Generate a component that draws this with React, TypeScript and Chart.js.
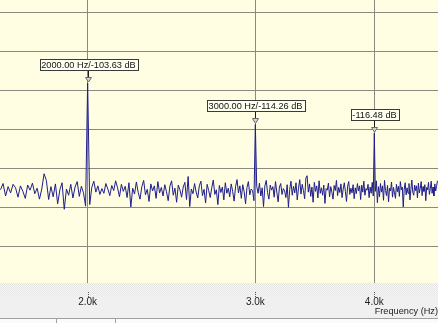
import React, { useEffect, useRef } from 'react';
import { Chart, registerables } from 'chart.js';

Chart.register(...registerables);

// FFT bin grid of the spectrum (Hz)
const binStartHz = 1620;
const binStepHz = 10;

// Spectrum level per bin (dB)
const levelsDb = [
  -131.0, -129.4, -132.6, -130.2, -131.8, -129.6, -130.5, -132.9, -130.0, -131.4, -133.2, -129.8, -131.1, -129.3, -132.0, -130.6, -133.4, -130.8, -126.9, -128.6,
  -133.5, -130.2, -132.8, -129.5, -134.6, -131.0, -129.2, -136.0, -130.8, -132.4, -129.6, -133.1, -130.3, -128.9, -132.7, -130.1, -131.8, -135.2, -103.63, -134.8,
  -130.4, -128.8, -131.6, -130.0, -132.2, -130.7, -131.9, -129.4, -130.8, -132.5, -129.9, -131.2, -128.7, -130.5, -132.8, -129.6, -131.4, -130.1, -133.0, -129.2,
  -135.4, -130.6, -132.1, -129.0, -131.7, -133.4, -130.2, -128.6, -132.3, -130.9, -134.0, -129.5, -131.3, -130.0, -133.2, -128.9, -131.8, -130.4, -132.6, -129.7,
  -131.5, -133.8, -130.1, -128.7, -132.4, -130.6, -134.2, -129.8, -131.0, -132.9, -130.3, -129.1, -133.5, -127.6, -135.3, -130.8, -132.0, -129.4, -131.6, -133.1,
  -130.0, -128.8, -132.5, -130.9, -134.4, -129.6, -131.2, -133.0, -130.5, -128.5, -132.2, -131.0, -134.8, -129.9, -131.7, -130.3, -133.6, -129.2, -131.9, -130.6,
  -132.8, -129.5, -131.4, -133.9, -130.2, -128.4, -131.8, -130.0, -133.2, -129.7, -131.5, -134.6, -130.4, -128.9, -132.3, -130.8, -131.2, -133.8, -114.26, -130.1,
  -131.9, -129.3, -132.6, -130.5, -135.3, -130.0, -128.6, -131.7, -133.4, -129.8, -131.1, -130.2, -132.9, -128.9, -131.6, -134.1, -130.3, -129.4, -132.2, -130.7,
  -131.3, -133.0, -129.7, -135.5, -130.9, -128.8, -132.4, -130.1, -131.8, -129.2, -133.6, -130.6, -128.4, -132.1, -129.6, -131.2, -133.3, -128.0, -127.4, -131.6,
  -129.5, -132.7, -130.3, -134.2, -129.1, -131.4, -130.0, -133.1, -128.7, -131.9, -130.5, -132.4, -129.8, -134.5, -130.7, -131.1, -129.3, -132.8, -130.2, -131.6,
  -133.4, -129.9, -131.2, -128.6, -132.5, -130.4, -131.7, -129.5, -133.0, -130.8, -129.2, -131.5, -134.0, -130.1, -128.9, -132.2, -130.6, -131.8, -129.7, -133.3,
  -130.5, -132.0, -129.4, -131.3, -130.0, -133.5, -129.8, -131.6, -128.8, -132.4, -130.7, -131.1, -129.6, -133.0, -130.3, -131.9, -129.1, -132.6, -116.48, -131.4,
  -128.7, -134.3, -130.2, -132.8, -129.4, -131.6, -130.0, -133.7, -128.6, -131.2, -132.5, -129.9, -134.1, -130.6, -131.3, -129.0, -132.9, -130.4, -131.8, -133.2,
  -129.6, -131.5, -130.1, -132.7, -128.9, -131.0, -130.3, -135.4, -130.8, -129.2, -132.3, -130.5, -131.9, -129.4, -133.6, -130.9, -128.5, -131.7, -132.4, -129.8,
  -131.2, -130.0, -133.1, -129.3, -131.8, -130.6, -128.9, -132.5, -130.2, -131.4, -129.7, -133.8, -130.4, -131.0, -129.1, -132.2, -130.7, -128.8, -131.9, -130.3,
  -132.6, -129.5, -131.3, -130.1, -128.7,
];

// Peak markers
const markerFreqs = [2000, 3000, 4000];
const markerDb = [-103.63, -114.26, -116.48];
const markerLabels = ['2000.00 Hz/-103.63 dB', '3000.00 Hz/-114.26 dB', '-116.48 dB'];

// Axes
const xTickValues = [2000, 3000, 4000];
const xTickLabels = ['2.0k', '3.0k', '4.0k'];
const yGridDb = [-85.5, -95.5, -105.5, -115.5, -125.5, -135.5, -145.5];
const xMinHz = 1618;
const xMaxHz = 4666;
const yMinDb = -154.9;
const yMaxDb = -82.35;

const FONT = '"Liberation Sans", Arial, sans-serif';

const framePlugin = {
  id: 'frame',
  beforeDraw(chart: any) {
    const { ctx, chartArea: a, width, height } = chart;
    ctx.save();
    ctx.fillStyle = '#f0f0f0';
    ctx.fillRect(0, 0, width, height);
    ctx.fillStyle = '#fffde2';
    ctx.fillRect(a.left, a.top, a.right - a.left, a.bottom - a.top);
    // dotted band under plot
    const pc = document.createElement('canvas');
    pc.width = 2;
    pc.height = 2;
    const p = pc.getContext('2d')!;
    p.fillStyle = '#f8f8f8';
    p.fillRect(0, 0, 2, 2);
    p.fillStyle = '#e4e4e4';
    p.fillRect(0, 0, 1, 1);
    p.fillRect(1, 1, 1, 1);
    ctx.fillStyle = ctx.createPattern(pc, 'repeat');
    ctx.fillRect(0, a.bottom, width, 12);
    // bottom tab strip
    ctx.fillStyle = '#a0a0a0';
    ctx.fillRect(0, 318, width, 1);
    ctx.fillStyle = '#fbfbfb';
    ctx.fillRect(0, 319, width, 4);
    ctx.fillStyle = '#a0a0a0';
    ctx.fillRect(56, 319, 1, 4);
    ctx.fillRect(115, 319, 1, 4);
    ctx.restore();
  },
  afterDatasetsDraw(chart: any) {
    const { ctx, chartArea: a } = chart;
    const xs = chart.scales.x;
    const ys = chart.scales.y;
    ctx.save();
    // small dotted tick marks
    ctx.fillStyle = '#555555';
    xTickValues.forEach((v) => {
      const px = Math.round(xs.getPixelForValue(v));
      for (let yy = a.bottom + 9; yy <= a.bottom + 13; yy += 2) ctx.fillRect(px, yy, 1, 1);
    });
    ctx.font = `9.2px ${FONT}`;
    ctx.lineWidth = 1;
    markerFreqs.forEach((f, i) => {
      const px = Math.round(xs.getPixelForValue(f)) + 0.5;
      const py = ys.getPixelForValue(markerDb[i]);
      const triTop = Math.round(py - 6) + 0.5;
      const boxBottom = Math.round(py - 13) + 0.5;
      ctx.strokeStyle = '#1a1a1a';
      ctx.beginPath();
      ctx.moveTo(px, boxBottom);
      ctx.lineTo(px, triTop);
      ctx.stroke();
      ctx.beginPath();
      ctx.moveTo(px - 3, triTop);
      ctx.lineTo(px + 3, triTop);
      ctx.lineTo(px, py - 1);
      ctx.closePath();
      ctx.fillStyle = '#d8d8cc';
      ctx.fill();
      ctx.strokeStyle = '#6a6a6a';
      ctx.stroke();
      const label = markerLabels[i];
      const tw = ctx.measureText(label).width;
      const bw = Math.round(tw + 4);
      const bh = 11;
      const bx = Math.round(px - bw / 2) + 0.5;
      const by = boxBottom - bh;
      ctx.fillStyle = '#fffff0';
      ctx.fillRect(bx, by, bw, bh);
      ctx.strokeStyle = '#3a3a3a';
      ctx.strokeRect(bx, by, bw, bh);
      ctx.fillStyle = '#111111';
      ctx.textAlign = 'center';
      ctx.textBaseline = 'middle';
      ctx.fillText(label, px, by + bh / 2 + 0.5);
    });
    ctx.restore();
  },
};

export default function App() {
  const ref = useRef<HTMLCanvasElement | null>(null);
  useEffect(() => {
    if (!ref.current) return;
    const points = levelsDb.map((db, i) => ({ x: binStartHz + i * binStepHz, y: db }));
    const chart = new Chart(ref.current, {
      type: 'line',
      data: {
        datasets: [
          {
            data: points,
            borderColor: '#1e1e8c',
            borderWidth: 1,
            pointRadius: 0,
            tension: 0,
            fill: false,
          },
        ],
      },
      options: {
        animation: false,
        responsive: false,
        devicePixelRatio: 1,
        layout: { padding: 0 },
        plugins: { legend: { display: false }, tooltip: { enabled: false } },
        scales: {
          x: {
            type: 'logarithmic',
            min: xMinHz,
            max: xMaxHz,
            afterBuildTicks: (s: any) => {
              s.ticks = xTickValues.map((v) => ({ value: v }));
            },
            afterFit: (s: any) => {
              s.height = 40;
            },
            ticks: {
              padding: 13,
              color: '#222222',
              font: { family: FONT, size: 10 },
              maxRotation: 0,
              autoSkip: false,
              callback: (v: any) => {
                const idx = xTickValues.indexOf(Number(v));
                return idx >= 0 ? xTickLabels[idx] : '';
              },
            },
            grid: { color: '#8a8a80', lineWidth: 1, drawTicks: false },
            border: { display: false },
            title: {
              display: true,
              text: 'Frequency (Hz)',
              align: 'end',
              color: '#222222',
              font: { family: FONT, size: 9.2 },
              padding: { top: 0, bottom: 6 },
            },
          },
          y: {
            type: 'linear',
            min: yMinDb,
            max: yMaxDb,
            afterBuildTicks: (s: any) => {
              s.ticks = yGridDb.map((v) => ({ value: v }));
            },
            ticks: { display: false },
            grid: { color: '#8a8a80', lineWidth: 1, drawTicks: false },
            border: { display: false },
          },
        },
      },
      plugins: [framePlugin],
    } as any);
    return () => chart.destroy();
  }, []);
  return (
    <div style={{ position: 'fixed', left: 0, top: 0, width: 438, height: 323 }}>
      <canvas ref={ref} width={438} height={323} style={{ display: 'block' }} />
    </div>
  );
}
